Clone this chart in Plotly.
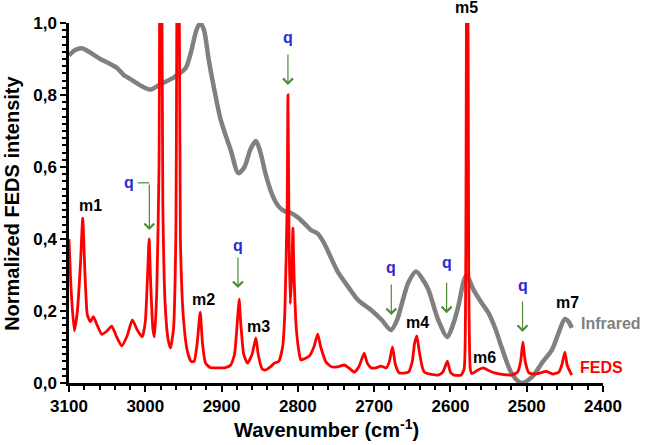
import plotly.graph_objects as go

# ---------------- data ----------------
feds_wn = [3100, 3097, 3093, 3089, 3085, 3082, 3079, 3076, 3072, 3068, 3063, 3057, 3050, 3044,
           3038, 3031, 3024, 3017, 3010, 3004, 3000, 2997, 2995, 2993, 2990, 2988, 2985, 2982,
           2980, 2977, 2974, 2970, 2967, 2963, 2960, 2957, 2954, 2950, 2945, 2940, 2936, 2932,
           2928, 2925, 2921, 2915, 2905, 2895, 2888, 2883, 2879, 2877, 2875, 2871, 2866, 2860,
           2855, 2852, 2847, 2843, 2836, 2831, 2825, 2820, 2817, 2814, 2813, 2811.5, 2810, 2808,
           2806.5, 2805, 2802, 2798, 2796, 2785, 2779, 2774, 2770, 2763, 2756, 2748, 2739, 2732,
           2726, 2720, 2713, 2709, 2704, 2698, 2691, 2684, 2680, 2676, 2672, 2667, 2655, 2650,
           2647, 2644, 2641, 2637, 2634, 2625, 2616, 2610, 2604, 2600, 2595, 2586, 2582, 2580,
           2578, 2576, 2574, 2572, 2565, 2557, 2550, 2542, 2530, 2520, 2512, 2508, 2505, 2502,
           2497, 2490, 2484, 2474, 2466, 2458, 2454, 2450, 2447, 2443, 2441]
feds_val = [0.40, 0.25, 0.145, 0.20, 0.33, 0.458, 0.30, 0.19, 0.17, 0.184, 0.16, 0.135, 0.145, 0.158,
            0.13, 0.103, 0.13, 0.175, 0.145, 0.128, 0.17, 0.30, 0.40, 0.28, 0.15, 0.128, 0.25, 0.6,
            2.0, 0.5, 0.22, 0.12, 0.097, 0.15, 0.4, 2.0, 0.4, 0.18, 0.09, 0.06, 0.06, 0.11,
            0.197, 0.11, 0.055, 0.043, 0.042, 0.043, 0.05, 0.08, 0.18, 0.233, 0.17, 0.08, 0.055, 0.08,
            0.125, 0.08, 0.04, 0.036, 0.045, 0.055, 0.06, 0.10, 0.2, 0.5, 0.80, 0.4, 0.22, 0.3,
            0.43, 0.3, 0.15, 0.08, 0.064, 0.075, 0.10, 0.136, 0.10, 0.058, 0.045, 0.045, 0.05, 0.04,
            0.03, 0.045, 0.083, 0.055, 0.042, 0.042, 0.047, 0.042, 0.06, 0.10, 0.05, 0.028, 0.03, 0.06,
            0.11, 0.131, 0.09, 0.045, 0.03, 0.024, 0.022, 0.03, 0.061, 0.03, 0.022, 0.022, 0.04, 0.3,
            2.0, 0.3, 0.04, 0.026, 0.035, 0.042, 0.035, 0.028, 0.023, 0.022, 0.03, 0.06, 0.114, 0.06,
            0.028, 0.025, 0.027, 0.032, 0.025, 0.03, 0.05, 0.086, 0.05, 0.03, 0.022]

ir_wn = [3100, 3092, 3083, 3070, 3059, 3045, 3037, 3028, 3020, 3005, 2993, 2980, 2964, 2955,
         2947, 2940, 2933, 2928, 2923, 2917, 2910, 2901, 2888, 2878, 2870, 2862, 2855, 2849,
         2842, 2833, 2825, 2818, 2809, 2800, 2790, 2783, 2774, 2766, 2757, 2748, 2734, 2721,
         2704, 2690, 2678, 2670, 2665, 2655, 2645, 2637, 2629, 2616, 2604, 2597, 2590, 2583,
         2579, 2570, 2559, 2550, 2541, 2533, 2520, 2507, 2493, 2480, 2467, 2458, 2450, 2445, 2441]
ir_val = [0.91, 0.925, 0.93, 0.915, 0.90, 0.885, 0.875, 0.855, 0.845, 0.825, 0.815, 0.83, 0.847, 0.86,
          0.875, 0.92, 0.98, 1.0, 0.98, 0.90, 0.82, 0.73, 0.647, 0.583, 0.60, 0.65, 0.672, 0.64,
          0.578, 0.52, 0.49, 0.478, 0.472, 0.46, 0.44, 0.425, 0.415, 0.39, 0.35, 0.31, 0.267, 0.23,
          0.203, 0.175, 0.147, 0.175, 0.21, 0.28, 0.31, 0.29, 0.26, 0.175, 0.128, 0.16, 0.21, 0.28,
          0.30, 0.26, 0.222, 0.194, 0.15, 0.10, 0.028, 0.0, 0.017, 0.056, 0.092, 0.14, 0.178, 0.17, 0.153]

x_tick_vals = [3100, 3000, 2900, 2800, 2700, 2600, 2500, 2400]
x_tick_text = ["3100", "3000", "2900", "2800", "2700", "2600", "2500", "2400"]
y_tick_vals = [0.0, 0.2, 0.4, 0.6, 0.8, 1.0]
y_tick_text = ["0,0", "0,2", "0,4", "0,6", "0,8", "1,0"]

# peak labels: (text, wavenumber, intensity)
m_labels = ["m1", "m2", "m3", "m4", "m6", "m7"]
m_wn = [3072, 2924, 2851, 2643, 2555, 2447]
m_val = [0.492, 0.231, 0.156, 0.167, 0.072, 0.225]

# "q" arrows: tip position (wavenumber, intensity) and q text position
q_tip_wn = [2813, 2878.5, 2677.5, 2605, 2505.5]
q_tip_val = [0.828, 0.264, 0.189, 0.194, 0.142]
q_text_val = [0.961, 0.383, 0.322, 0.336, 0.272]

FONT = "Arial, Liberation Sans, sans-serif"
GREEN = "#4f8a3a"
BLUE = "#2b2bd6"

fig = go.Figure()
fig.add_trace(go.Scatter(x=ir_wn, y=ir_val, mode="lines",
                         line=dict(color="#808080", width=4.5, shape="spline", smoothing=0.8),
                         showlegend=False, hoverinfo="skip"))
fig.add_trace(go.Scatter(x=feds_wn, y=feds_val, mode="lines",
                         line=dict(color="#ff0000", width=2.8, shape="spline", smoothing=0.5),
                         showlegend=False, hoverinfo="skip"))

C = dict(xanchor="center", yanchor="middle", showarrow=False)
ann = []
lab_font = dict(family=FONT, size=16, color="black")
for t, xw, yv in zip(m_labels, m_wn, m_val):
    ann.append(dict(x=xw, y=yv, xref="x", yref="y", text="<b>%s</b>" % t, font=lab_font, **C))
ann.append(dict(x=2579, y=1.042, xref="x", yref="paper", text="<b>m5</b>", font=lab_font, **C))

q_font = dict(family=FONT, size=16, color=BLUE)
for xw, tv, qv in zip(q_tip_wn, q_tip_val, q_text_val):
    ann.append(dict(x=xw, y=tv, xref="x", yref="y", ax=0, ay=-32, text="", showarrow=True,
                    arrowhead=4, arrowsize=1.6, arrowwidth=1.2, arrowcolor=GREEN))
    ann.append(dict(x=xw, y=qv, xref="x", yref="y", text="<b>q</b>", font=q_font, **C))

# bracketed q for the 2995 peak
ann.append(dict(x=2994.7, y=0.425, xref="x", yref="y", ax=0, ay=-47, text="", showarrow=True,
                arrowhead=4, arrowsize=1.6, arrowwidth=1.2, arrowcolor=GREEN))
ann.append(dict(x=3021, y=0.556, xref="x", yref="y", text="<b>q</b>", font=q_font, **C))

ann.append(dict(x=1.015, y=0.164, xref="paper", yref="paper", text="<b>Infrared</b>",
                font=dict(family=FONT, size=16, color="#808080"), **C))
ann.append(dict(x=0.998, y=0.044, xref="paper", yref="paper", text="<b>FEDS</b>",
                font=dict(family=FONT, size=16, color="#ff0000"), **C))

ann.append(dict(x=-0.107, y=0.5, xref="paper", yref="paper", textangle=-90,
                text="<b>Normalized FEDS intensity</b>",
                font=dict(family=FONT, size=20, color="black"), **C))
ann.append(dict(x=0.483, y=-0.125, xref="paper", yref="paper",
                text="<b>Wavenumber (cm<sup>-1</sup>)</b>",
                font=dict(family=FONT, size=20, color="black"), **C))

fig.update_layout(
    width=646, height=445,
    margin=dict(l=69, r=43, t=23, b=62),
    paper_bgcolor="white", plot_bgcolor="white",
    annotations=ann,
    shapes=[dict(type="line", xref="x", yref="y", x0=3010, x1=2994.7, y0=0.556, y1=0.556,
                 line=dict(color=GREEN, width=1.2))],
    xaxis=dict(range=[3100, 2400], tickvals=x_tick_vals, ticktext=x_tick_text,
               showgrid=False, zeroline=False, showline=True, linecolor="black", linewidth=2.5,
               ticks="outside", ticklen=6, tickwidth=2, tickcolor="black",
               minor=dict(dtick=20, ticks="outside", ticklen=4, tickwidth=1.5, tickcolor="black",
                          showgrid=False),
               tickfont=dict(family=FONT, size=17, color="black", weight="bold")),
    yaxis=dict(range=[0, 1.0], tickvals=y_tick_vals, ticktext=y_tick_text,
               showgrid=False, zeroline=False, showline=True, linecolor="black", linewidth=2.5,
               ticks="outside", ticklen=6, tickwidth=2, tickcolor="black",
               minor=dict(dtick=0.02, ticks="outside", ticklen=4, tickwidth=1.5, tickcolor="black",
                          showgrid=False),
               tickfont=dict(family=FONT, size=17, color="black", weight="bold")),
)

fig.write_html("out.html", config={"displayModeBar": False},
               post_script="document.body.style.margin='0';document.body.style.padding='0';")
